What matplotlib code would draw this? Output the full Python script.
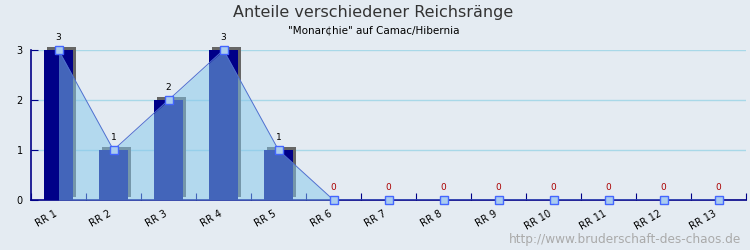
import matplotlib
matplotlib.use("Agg")
import matplotlib.pyplot as plt
import matplotlib.transforms as mtransforms
import numpy as np

categories = ["RR 1", "RR 2", "RR 3", "RR 4", "RR 5", "RR 6", "RR 7",
              "RR 8", "RR 9", "RR 10", "RR 11", "RR 12", "RR 13"]
values = [3, 1, 2, 3, 1, 0, 0, 0, 0, 0, 0, 0, 0]
yticks = [0, 1, 2, 3]

title = "Anteile verschiedener Reichsränge"
subtitle = '"Monar\u00a2hie" auf Camac/Hibernia'
watermark = "http://www.bruderschaft-des-chaos.de"

bg = "#e4ebf2"
fig = plt.figure(figsize=(7.5, 2.5), dpi=100, facecolor=bg)
ax = fig.add_axes([31/750, 0.2, 715/750, 0.6], facecolor=bg)

x = np.arange(len(categories))
ax.set_xlim(-0.5, len(categories) - 0.5)
ax.set_ylim(0, 3)

# grid
for g in yticks[1:]:
    ax.axhline(g, color="#a8d8e8", lw=1, zorder=0)

# shadow bars
shadow_tr = ax.transData + mtransforms.ScaledTranslation(3/100, 3/100, fig.dpi_scale_trans)
sh = ax.bar(x, values, width=0.53, color="#666666", transform=shadow_tr, zorder=1)
for p in sh:
    p.set_clip_on(False)
ax.bar(x, values, width=0.53, color="#000088", zorder=2)

# area
ax.fill_between(x, values, 0, color="#85c8ec", alpha=0.51, lw=0, zorder=3)
ax.plot(x, values, color="#5070d0", lw=0.7, zorder=4)
ax.plot(x, values, ls="none", marker="s", ms=5.5, mfc="#aaccee", mec="#4466ff",
        mew=1, zorder=5, clip_on=False)

for xi, v in zip(x, values):
    ax.annotate(str(v), (xi, v), xytext=(0, 6), textcoords="offset points",
                ha="center", va="bottom", fontsize=6.5,
                color="black" if v else "#aa0000", zorder=6)

for s in ["top", "right"]:
    ax.spines[s].set_visible(False)
for s in ["left", "bottom"]:
    ax.spines[s].set_color("#000088")
    ax.spines[s].set_linewidth(1.2)

ax.set_yticks(yticks)
ax.set_yticklabels([str(t) for t in yticks], fontsize=7)
ax.tick_params(axis="y", direction="in", length=5, color="#000088", pad=6)

ax.set_xticks(np.arange(len(categories) + 1) - 0.5, minor=False)
ax.set_xticklabels([])
ax.tick_params(axis="x", direction="in", length=5, color="#000088")
ax.set_xticks(x, minor=True)
ax.set_xticklabels(categories, minor=True, rotation=30, ha="right",
                   rotation_mode="anchor", fontsize=7)
ax.tick_params(axis="x", which="minor", length=0, pad=6)
shift = mtransforms.ScaledTranslation(-5/100, 0, fig.dpi_scale_trans)
for lab in ax.get_xticklabels(minor=True):
    lab.set_transform(lab.get_transform() + shift)

fig.text(373/750, 1 - 12/250, title, ha="center", va="center", fontsize=11.5,
         color="#333333")
fig.text(374/750, 1 - 30/250, subtitle, ha="center", va="center", fontsize=7.5,
         color="black")
fig.text(741/750, 1 - 240/250, watermark, ha="right", va="center", fontsize=8.7,
         color="#aaaaaa")

fig.savefig("out.png", dpi=100, facecolor=bg)
